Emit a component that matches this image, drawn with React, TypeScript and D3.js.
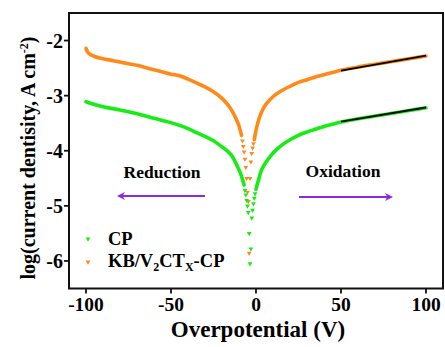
import * as d3 from "d3";

// CP (green) - left branch, steep dip points, right branch
const cpLeftX = [-100, -95, -90, -80, -70, -60, -50, -45, -40, -35, -30, -25, -20, -17, -14, -11, -9, -7];
const cpLeftY = [-3.11, -3.16, -3.2, -3.26, -3.33, -3.41, -3.49, -3.54, -3.6, -3.67, -3.74, -3.82, -3.93, -4.0, -4.1, -4.28, -4.42, -4.62];
const cpDipX = [-6.5, -6, -5.5, -5, -4.5, -4, -3.5, -3, -2.5, -2, -1.5, -1, -0.5];
const cpDipY = [-4.72, -4.8, -4.9, -5.0, -5.12, -5.5, -6.05, -5.78, -5.22, -5.08, -4.96, -4.86, -4.78];
const cpRightX = [0, 1, 2, 3, 5, 7, 9, 12, 16, 20, 25, 30, 35, 40, 45, 50, 60, 70, 80, 90, 100];
const cpRightY = [-4.7, -4.58, -4.47, -4.37, -4.25, -4.16, -4.08, -3.98, -3.88, -3.8, -3.72, -3.66, -3.61, -3.56, -3.52, -3.48, -3.42, -3.37, -3.32, -3.27, -3.22];

// KB/V2CTx-CP (orange)
const kbLeftX = [-100, -99.5, -99, -98, -97, -95, -90, -85, -80, -75, -70, -65, -60, -55, -50, -45, -40, -35, -30, -25, -20, -17, -14, -12, -10, -8.5];
const kbLeftY = [-2.14, -2.18, -2.21, -2.24, -2.26, -2.29, -2.33, -2.36, -2.39, -2.42, -2.45, -2.49, -2.53, -2.57, -2.61, -2.64, -2.7, -2.77, -2.84, -2.93, -3.05, -3.15, -3.28, -3.4, -3.55, -3.72];
const kbDipX = [-8, -7.5, -7, -6.5, -6, -5.5, -5, -4.5, -4, -3.5, -3, -2.5, -2, -1.5];
const kbDipY = [-3.82, -3.92, -4.02, -4.15, -4.3, -4.5, -4.75, -4.92, -5.86, -4.5, -4.2, -4.05, -3.95, -3.87];
const kbRightX = [-1, 0, 1, 2, 3, 4, 6, 8, 10, 12, 15, 20, 25, 30, 35, 40, 45, 50, 60, 70, 80, 90, 100];
const kbRightY = [-3.8, -3.63, -3.5, -3.4, -3.32, -3.25, -3.15, -3.08, -3.02, -2.97, -2.91, -2.83, -2.76, -2.71, -2.66, -2.62, -2.58, -2.54, -2.48, -2.43, -2.38, -2.33, -2.28];

// Tafel fit lines
const fitX = [50, 100];
const cpFitY = [-3.47, -3.215];
const kbFitY = [-2.545, -2.275];

const xTicks = [-100, -50, 0, 50, 100];
const yTicks = [-2, -3, -4, -5, -6];

const GREEN = "#17EC17";
const ORANGE = "#FF8A1A";
const PURPLE = "#8A2BE2";
const FONT = "'Liberation Serif', 'Times New Roman', serif";

const zip = (xs: number[], ys: number[]) => xs.map((x, i) => [x, ys[i]] as [number, number]);

export default function App() {
  const W = 445, H = 347;
  const left = 69, right = 443, top = 13, bottom = 288.5;

  const x = d3.scaleLinear().domain([-110, 110]).range([left, right]);
  const y = d3.scaleLinear().domain([-6.5, -1.5]).range([bottom, top]);

  const line = d3.line<[number, number]>()
    .x(d => x(d[0]))
    .y(d => y(d[1]))
    .curve(d3.curveMonotoneX);
  const straight = d3.line<[number, number]>().x(d => x(d[0])).y(d => y(d[1]));

  const tri = d3.symbol(d3.symbolTriangle, 10)() as string;

  const series = [
    { color: ORANGE, l: zip(kbLeftX, kbLeftY), d: zip(kbDipX, kbDipY), r: zip(kbRightX, kbRightY) },
    { color: GREEN, l: zip(cpLeftX, cpLeftY), d: zip(cpDipX, cpDipY), r: zip(cpRightX, cpRightY) },
  ];

  return (
    <svg width={W} height={H} style={{ position: "absolute", left: 0, top: 0, background: "#fff" }}
      fontFamily={FONT} fontWeight="bold">
      <defs>
        <marker id="ah" viewBox="0 0 10 10" refX="5" refY="5" markerWidth="4.5" markerHeight="4" orient="auto-start-reverse">
          <path d="M0,0 L10,5 L0,10 L3,5 z" fill={PURPLE} />
        </marker>
      </defs>

      {/* curves */}
      {series.map((s, i) => (
        <g key={i}>
          <path d={line(s.l) || ""} fill="none" stroke={s.color} strokeWidth={3.6} strokeLinecap="round" />
          <path d={line(s.r) || ""} fill="none" stroke={s.color} strokeWidth={3.6} strokeLinecap="round" />
          {s.d.map((p, j) => (
            <path key={j} d={tri} fill={s.color} transform={`translate(${x(p[0])},${y(p[1])}) rotate(180)`} />
          ))}
        </g>
      ))}

      {/* fit lines */}
      <path d={straight(zip(fitX, kbFitY)) || ""} stroke="#000" strokeWidth={1.8} fill="none" />
      <path d={straight(zip(fitX, cpFitY)) || ""} stroke="#000" strokeWidth={1.8} fill="none" />

      {/* frame */}
      <rect x={left} y={top} width={right - left} height={bottom - top} fill="none" stroke="#111" strokeWidth={2} />

      {/* x axis */}
      {xTicks.map(t => (
        <g key={t} transform={`translate(${x(t)},${bottom})`}>
          <line y1={0} y2={5} stroke="#111" strokeWidth={1.8} />
          <text y={22} textAnchor="middle" fontSize={19.5}>{t}</text>
        </g>
      ))}
      <text x={258} y={337} textAnchor="middle" fontSize={23}>Overpotential (V)</text>

      {/* y axis */}
      {yTicks.map(t => (
        <g key={t} transform={`translate(${left},${y(t)})`}>
          <line x1={0} x2={-5} stroke="#111" strokeWidth={1.8} />
          <text x={-6} dy="0.35em" textAnchor="end" fontSize={20}>{t}</text>
        </g>
      ))}
      <text transform="translate(35,158) rotate(-90)" textAnchor="middle" fontSize={20}>
        log(current dentisity, A cm<tspan dy={-7} fontSize={12}>-2</tspan><tspan dy={7}>)</tspan>
      </text>

      {/* annotations */}
      <text x={162} y={178} textAnchor="middle" fontSize={17.5}>Reduction</text>
      <text x={343} y={177} textAnchor="middle" fontSize={17.5}>Oxidation</text>
      <line x1={205} y1={196} x2={121} y2={196} stroke={PURPLE} strokeWidth={2} markerEnd="url(#ah)" />
      <line x1={299} y1={197} x2={389} y2={197} stroke={PURPLE} strokeWidth={2} markerEnd="url(#ah)" />

      {/* legend */}
      <path d={tri} fill={GREEN} transform="translate(88,239) rotate(180)" />
      <text x={108} y={245} fontSize={18.5}>CP</text>
      <path d={tri} fill={ORANGE} transform="translate(88,262) rotate(180)" />
      <text x={108} y={267} fontSize={18.5}>
        KB/V<tspan fontSize={12} dy={4}>2</tspan><tspan dy={-4}>CT</tspan><tspan fontSize={12} dy={4}>X</tspan><tspan dy={-4}>-CP</tspan>
      </text>
    </svg>
  );
}
